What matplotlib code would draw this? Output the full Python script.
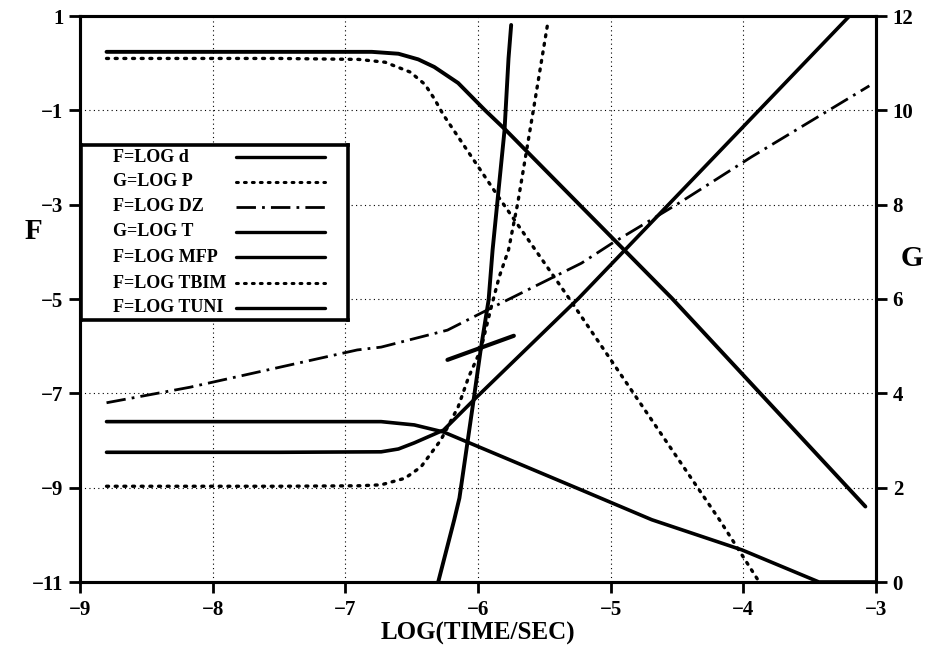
import matplotlib
matplotlib.use("Agg")
import matplotlib.pyplot as plt

plt.rcParams['font.family'] = ['Liberation Serif', 'DejaVu Serif']
plt.rcParams['font.weight'] = 'bold'

# ---- data ----
d_x = [-8.8, -7.5, -6.8, -6.6, -6.45, -6.33, -6.15, -5.95, -5.79, -4.54, -3.08]
d_F = [0.24, 0.24, 0.24, 0.2, 0.08, -0.08, -0.42, -0.99, -1.42, -4.98, -9.4]

p_x = [-8.8, -7.5, -6.9, -6.7, -6.51, -6.4, -6.33, -6.26, -5.83, -5.32, -4.18, -3.88]
p_G = [11.1, 11.1, 11.08, 11.02, 10.81, 10.55, 10.25, 9.9, 8.1, 6.04, 1.32, 0.0]

dz_x = [-8.8, -8.17, -6.91, -6.73, -6.23, -5.9, -5.22, -4.99, -4.47, -3.94, -3.05]
dz_F = [-7.2, -6.87, -6.08, -6.02, -5.66, -5.19, -4.24, -3.82, -2.94, -1.99, -0.48]

seg_x = [-6.23, -5.73]
seg_F = [-6.29, -5.78]

t_x = [-6.30, -6.18, -6.14, -6.03, -5.98, -5.92, -5.89, -5.80, -5.77, -5.75]
t_G = [0.0, 1.31, 1.78, 3.92, 4.92, 5.98, 7.04, 9.58, 11.1, 11.81]

mfp_x = [-8.8, -7.5, -6.73, -6.6, -6.48, -6.26, -6.01, -5.24, -3.20]
mfp_F = [-8.25, -8.25, -8.24, -8.18, -8.05, -7.78, -7.08, -4.98, 1.0]

tbim_x = [-8.8, -7.5, -6.9, -6.73, -6.55, -6.43, -6.28, -6.15, -6.07, -5.98, -5.9, -5.84, -5.77, -5.7, -5.58, -5.47]
tbim_F = [-8.97, -8.97, -8.96, -8.94, -8.8, -8.56, -7.99, -7.29, -6.65, -6.08, -5.17, -4.53, -3.96, -2.96, -0.95, 0.92]

tuni_x = [-8.8, -7.5, -6.73, -6.48, -6.26, -5.22, -4.69, -4.01, -3.43, -3.0]
tuni_F = [-7.6, -7.6, -7.6, -7.67, -7.82, -9.05, -9.68, -10.32, -11.0, -11.0]

x_ticks = [-9, -8, -7, -6, -5, -4, -3]
f_ticks = [-11, -9, -7, -5, -3, -1, 1]
g_ticks = [0, 2, 4, 6, 8, 10, 12]
legend_labels = ["F=LOG d", "G=LOG P", "F=LOG DZ", "G=LOG T",
                 "F=LOG MFP", "F=LOG TBIM", "F=LOG TUNI"]

# ---- styles ----
solid = dict(color='black', linestyle='-', solid_capstyle='round')
dotted = dict(color='black', linestyle=(0, (0.6, 2.0)), dash_capstyle='round')
dashdot = dict(color='black', linestyle=(0, (7, 2.2, 1, 2.2)))

fig = plt.figure(figsize=(9.46, 6.56), dpi=100)
ax = fig.add_axes([80/946, 1-582/656, 796/946, 566/656])
ax2 = ax.twinx()

ax.set_xlim(-9, -3)
ax.set_ylim(-11, 1)
ax2.set_ylim(0, 12)

# grid
for gx in x_ticks[1:-1]:
    ax.axvline(gx, color='black', lw=0.8, linestyle=(0, (1, 3)), zorder=0)
for gy in f_ticks[1:-1]:
    ax.axhline(gy, color='black', lw=0.8, linestyle=(0, (1, 3)), zorder=0)

ax.plot(d_x, d_F, lw=2.8, **solid)
ax2.plot(p_x, p_G, lw=2.4, **dotted)
ax.plot(dz_x, dz_F, lw=2.0, **dashdot)
ax.plot(seg_x, seg_F, lw=3.0, **solid)
ax2.plot(t_x, t_G, lw=2.8, **solid)
ax.plot(mfp_x, mfp_F, lw=2.6, **solid)
ax.plot(tbim_x, tbim_F, lw=2.4, **dotted)
ax.plot(tuni_x, tuni_F, lw=2.6, **solid)

ax.set_xticks(x_ticks)
ax.set_yticks(f_ticks)
ax2.set_yticks(g_ticks)
ax.set_xticklabels([f"\u2212{abs(v)}" for v in x_ticks])
ax.set_yticklabels([f"\u2212{abs(v)}" if v < 0 else str(v) for v in f_ticks])
ax2.set_yticklabels([str(v) for v in g_ticks])

for a in (ax, ax2):
    for s in a.spines.values():
        s.set_linewidth(2.2)
    a.tick_params(direction='out', length=8, width=2, labelsize=15, pad=4)
ax.tick_params(axis='x', pad=5)

ax.set_xlabel("LOG(TIME/SEC)", fontsize=18, fontweight='bold', labelpad=1)
ax.set_ylabel("F", fontsize=21, fontweight='bold', rotation=0)
ax.yaxis.set_label_coords(-0.058, 0.595)
ax2.set_ylabel("G", fontsize=21, fontweight='bold', rotation=0)
ax2.yaxis.set_label_coords(1.045, 0.595)

# legend box drawn as an inset
lg = fig.add_axes([81/946, 1-320/656, 267/946, 175/656])
lg.set_xlim(0, 1)
lg.set_ylim(0, 1)
lg.set_xticks([])
lg.set_yticks([])
for s in lg.spines.values():
    s.set_linewidth(2.6)
row_y = [0.931, 0.789, 0.646, 0.503, 0.36, 0.211, 0.069]
styles = [(solid, 2.4), (dotted, 2.2), (dashdot, 2.0), (solid, 2.4),
          (solid, 2.4), (dotted, 2.2), (solid, 2.4)]
for lab, yy, (st, lw) in zip(legend_labels, row_y, styles):
    lg.text(0.121, yy, lab, fontsize=13, fontweight='bold', va='center', ha='left')
    lg.plot([0.58, 0.913], [yy, yy], lw=lw, **st)

fig.savefig("out.png", dpi=100)
